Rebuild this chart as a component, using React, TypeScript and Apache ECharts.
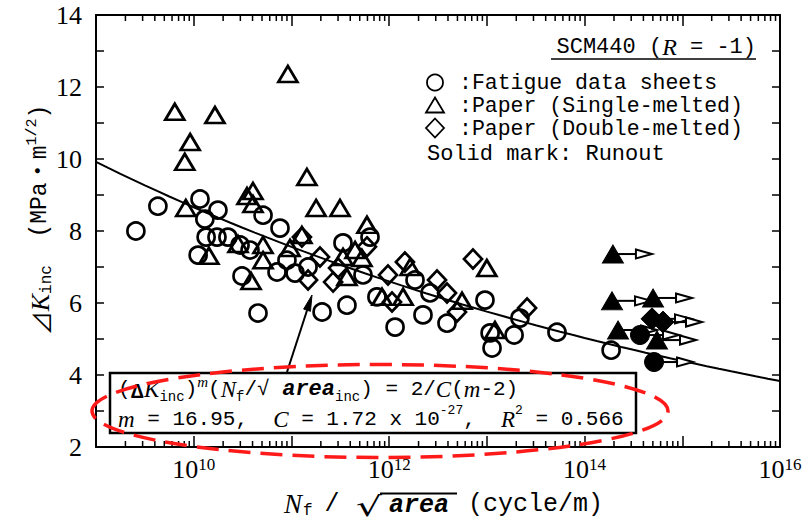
import React, { useEffect, useRef } from "react";
import * as echarts from "echarts";

// Fatigue data sheets (open circles): [Nf/√area (cycle/m), ΔKinc (MPa·m^1/2)]
const fatigueSheets: [number, number][] = [
  [2.56e9, 8.0], [4.3e9, 8.69], [1.16e10, 8.89], [1.77e10, 8.58], [1.3e10, 8.33],
  [1.34e10, 7.83], [1.73e10, 7.83], [2.24e10, 7.83], [1.11e10, 7.33], [3.12e10, 6.75],
  [4.55e10, 5.72], [2.98e10, 7.61], [3.77e10, 7.47], [5.12e10, 8.44], [7.64e10, 8.08],
  [7.12e10, 6.86], [9.0e10, 7.19], [1.09e11, 6.83], [1.48e11, 7.0], [3.37e11, 7.67],
  [6.37e11, 7.83], [5.4e11, 6.78], [2.06e11, 5.75], [3.7e11, 5.94], [7.5e11, 6.17],
  [1.15e12, 5.33], [1.84e12, 6.64], [2.62e12, 6.28], [2.22e12, 5.67], [3.91e12, 5.44],
  [9.57e12, 6.08], [1.08e13, 5.17], [1.13e13, 4.75], [1.9e13, 5.11], [2.18e13, 5.58],
  [5.22e13, 5.19], [1.87e14, 4.69],
];

// Paper, single-melted (open triangles)
const singleMelted: [number, number][] = [
  [6.4e9, 11.31], [1.65e10, 11.22], [9.2e9, 10.47], [8.1e9, 9.92], [9.2e10, 12.36],
  [1.44e11, 9.5], [1.79e11, 8.64], [3.14e11, 8.64], [8.3e9, 8.64], [3.51e10, 8.97],
  [4.04e10, 9.11], [4.04e10, 8.75], [5.93e11, 8.17], [1.43e10, 7.31], [2.84e10, 7.64],
  [3.86e10, 6.61], [5.12e10, 7.61], [5.12e10, 7.19], [9.67e10, 7.53], [1.28e11, 7.89],
  [4.48e11, 7.47], [3.37e11, 7.28], [5.27e11, 7.25], [3.7e11, 6.72], [8.45e11, 6.17],
  [1.39e12, 6.17], [1.64e12, 7.0], [1.0e13, 6.97], [5.57e12, 6.06], [1.21e13, 5.25],
];

// Paper, double-melted (open diamonds)
const doubleMelted: [number, number][] = [
  [1.28e11, 7.83], [1.96e11, 7.28], [1.48e11, 6.64], [2.67e11, 6.58], [3.0e11, 6.97],
  [5.93e11, 7.56], [9.73e11, 6.78], [1.45e12, 7.14], [1.07e12, 6.03], [7.21e12, 7.22],
  [3.09e12, 6.64], [3.91e12, 6.28], [4.95e12, 5.75], [2.58e13, 5.86],
];

// Runouts (solid marks)
const runoutSingle: [number, number][] = [
  [1.95e14, 7.36], [1.91e14, 6.06], [5.02e14, 6.14], [2.2e14, 5.25], [5.51e14, 4.97],
];
const runoutSheets: [number, number][] = [[3.69e14, 5.11], [5.14e14, 4.36]];
const runoutDouble: [number, number][] = [[4.9e14, 5.56], [6.35e14, 5.47]];

// Fitted relation: (ΔKinc)^m (Nf/√area) = 2 / C(m-2)
const fitM = 16.95;
const fitC = 1.72e-27;
const fitR2 = 0.566;

const xMin = 1e9;
const xMax = 1e16;
const yMin = 2;
const yMax = 14;

const legendLabels = ["Fatigue data sheets", "Paper (Single-melted)", "Paper (Double-melted)"];

const MONO = "'Liberation Mono', 'Noto Sans CJK JP', monospace";
const SERIF = "'Liberation Serif', 'DejaVu Serif', serif";
const CJK = "'Noto Sans CJK JP', 'DejaVu Sans', sans-serif";

function fitCurve(): [number, number][] {
  const rhs = 2 / (fitC * (fitM - 2));
  const pts: [number, number][] = [];
  const e0 = Math.log10(xMin);
  const e1 = Math.log10(xMax);
  for (let e = e0; e <= e1 + 1e-9; e += 0.125) {
    const n = Math.pow(10, e);
    pts.push([n, Math.pow(rhs / n, 1 / fitM)]);
  }
  return pts;
}

function minorTicks(): number[] {
  const out: number[] = [];
  for (let d = 9; d < 16; d++) {
    for (let k = 2; k <= 9; k++) out.push(k * Math.pow(10, d));
  }
  return out;
}

const openStyle = { color: "transparent", borderColor: "#000", borderWidth: 2.7, opacity: 1 };
const solidStyle = { color: "#000", borderColor: "#000", borderWidth: 1, opacity: 1 };

export default function App() {
  const ref = useRef<HTMLDivElement>(null);

  useEffect(() => {
    if (!ref.current) return;
    const chart = echarts.init(ref.current, undefined, { renderer: "svg" });

    const axisLineStyle = { color: "#000", width: 2 };

    const xAxisBase = {
      type: "log" as const,
      logBase: 10,
      min: xMin,
      max: xMax,
      splitLine: { show: false },
      axisLine: { lineStyle: axisLineStyle },
      axisTick: { inside: true, length: 11, lineStyle: { color: "#000", width: 1.5 } },
    };
    const yAxisBase = {
      type: "value" as const,
      min: yMin,
      max: yMax,
      interval: 1,
      splitLine: { show: false },
      axisLine: { lineStyle: axisLineStyle },
      axisTick: { inside: true, length: 8, lineStyle: { color: "#000", width: 1.5 } },
    };

    const eqRich = {
      n: { fontFamily: MONO, fontSize: 21, lineHeight: 30, fill: "#000" },
      it: { fontFamily: SERIF, fontStyle: "italic", fontSize: 23, lineHeight: 30, fill: "#000" },
      d: { fontFamily: CJK, fontSize: 19, fontWeight: "bold", lineHeight: 30, fill: "#000" },
      ar: { fontFamily: MONO, fontStyle: "italic", fontWeight: "bold", fontSize: 22, lineHeight: 30, fill: "#000" },
      sub: { fontFamily: MONO, fontSize: 14, verticalAlign: "bottom", fill: "#000" },
      sup: { fontFamily: MONO, fontSize: 13, verticalAlign: "top", fill: "#000" },
      supi: { fontFamily: SERIF, fontStyle: "italic", fontSize: 15, verticalAlign: "top", fill: "#000" },
    };

    // Arrow from the formula box towards the fitted curve
    const tip = [312, 295];
    const tail = [287, 372];
    const dx = tip[0] - tail[0];
    const dy = tip[1] - tail[1];
    const len = Math.hypot(dx, dy);
    const ux = dx / len;
    const uy = dy / len;
    const headLen = 16;
    const headHalf = 3.6;
    const bx = tip[0] - ux * headLen;
    const by = tip[1] - uy * headLen;

    chart.setOption({
      animation: false,
      grid: { left: 96, top: 15, right: 28, bottom: 75, containLabel: false },
      xAxis: [
        {
          ...xAxisBase,
          position: "bottom",
          axisLabel: {
            margin: 9,
            showMinLabel: true,
            showMaxLabel: true,
            formatter: (v: number) => {
              const e = Math.round(Math.log10(v));
              return e % 2 === 0 ? `{b|10}{s|${e}}` : "";
            },
            rich: {
              b: { fontFamily: SERIF, fontSize: 26, color: "#000", lineHeight: 26 },
              s: { fontFamily: SERIF, fontSize: 17, color: "#000", verticalAlign: "top" },
            },
          },
        },
        { ...xAxisBase, position: "top", axisLabel: { show: false } },
      ],
      yAxis: [
        {
          ...yAxisBase,
          position: "left",
          axisLabel: {
            margin: 14,
            fontFamily: SERIF,
            fontSize: 26,
            color: "#000",
            formatter: (v: number) => (v % 2 === 0 ? String(v) : ""),
          },
        },
        { ...yAxisBase, position: "right", axisLabel: { show: false } },
      ],
      series: [
        {
          type: "custom",
          silent: true,
          clip: false,
          data: minorTicks().map((v) => [v, yMin]),
          renderItem: (_p: any, api: any) => {
            const b = api.coord([api.value(0), yMin]);
            const t = api.coord([api.value(0), yMax]);
            const ls = { stroke: "#000", lineWidth: 1.5 };
            return {
              type: "group",
              children: [
                { type: "line", shape: { x1: b[0], y1: b[1], x2: b[0], y2: b[1] - 6 }, style: ls },
                { type: "line", shape: { x1: t[0], y1: t[1], x2: t[0], y2: t[1] + 6 }, style: ls },
              ],
            };
          },
        },
        {
          type: "line",
          silent: true,
          data: fitCurve(),
          symbol: "none",
          lineStyle: { color: "#000", width: 2 },
          z: 2,
        },
        {
          type: "custom",
          silent: true,
          clip: false,
          z: 3,
          data: [...runoutSingle, ...runoutSheets, ...runoutDouble],
          renderItem: (_p: any, api: any) => {
            const p = api.coord([api.value(0), api.value(1)]);
            const x0 = p[0] + 4;
            const x1 = p[0] + 39;
            const y = p[1];
            return {
              type: "group",
              children: [
                { type: "line", shape: { x1: x0, y1: y, x2: x1 - 16, y2: y }, style: { stroke: "#000", lineWidth: 2 } },
                {
                  type: "polygon",
                  shape: { points: [[x1 - 16, y - 4.5], [x1, y], [x1 - 16, y + 4.5]] },
                  style: { fill: "#fff", stroke: "#000", lineWidth: 2 },
                },
              ],
            };
          },
        },
        { type: "scatter", silent: true, z: 4, data: fatigueSheets, symbol: "circle", symbolSize: 17, itemStyle: openStyle },
        { type: "scatter", silent: true, z: 4, data: singleMelted, symbol: "triangle", symbolSize: [19, 16], itemStyle: openStyle },
        { type: "scatter", silent: true, z: 4, data: doubleMelted, symbol: "diamond", symbolSize: [18, 19], itemStyle: openStyle },
        { type: "scatter", silent: true, z: 5, data: runoutSingle, symbol: "triangle", symbolSize: [21, 18], itemStyle: solidStyle },
        { type: "scatter", silent: true, z: 5, data: runoutSheets, symbol: "circle", symbolSize: 19, itemStyle: solidStyle },
        { type: "scatter", silent: true, z: 5, data: runoutDouble, symbol: "diamond", symbolSize: [22, 22], itemStyle: solidStyle },
      ],
      graphic: [
        // y-axis title
        {
          type: "text", x: 40, y: 220, rotation: Math.PI / 2, z: 100,
          style: {
            text: "{tri|⊿}{it|K}{sub|inc}{n|  (MPa・m}{sup|1/2}{n|)}",
            align: "center", verticalAlign: "middle", fill: "#000",
            rich: {
              tri: { fontFamily: CJK, fontSize: 24, lineHeight: 30, fill: "#000" },
              it: { fontFamily: SERIF, fontStyle: "italic", fontSize: 26, lineHeight: 30, fill: "#000" },
              n: { fontFamily: MONO, fontSize: 23, lineHeight: 30, fill: "#000" },
              sub: { fontFamily: MONO, fontSize: 16, verticalAlign: "bottom", fill: "#000" },
              sup: { fontFamily: MONO, fontSize: 15, verticalAlign: "top", fill: "#000" },
            },
          },
        },
        // x-axis title
        {
          type: "text", x: 284, y: 504, z: 100,
          style: { text: "N", fontFamily: SERIF, fontStyle: "italic", fontSize: 27, fill: "#000", align: "left", verticalAlign: "middle" },
        },
        {
          type: "text", x: 303, y: 511, z: 100,
          style: { text: "f", fontFamily: MONO, fontSize: 16, fill: "#000", align: "left", verticalAlign: "middle" },
        },
        {
          type: "text", x: 332, y: 504, z: 100,
          style: { text: "/", fontFamily: MONO, fontSize: 25, fill: "#000", align: "center", verticalAlign: "middle" },
        },
        {
          type: "text", x: 356, y: 520, scaleX: 1.5, z: 100,
          style: { text: "√", fontFamily: "'DejaVu Sans', sans-serif", fontSize: 27, fill: "#000", align: "left", verticalAlign: "bottom" },
        },
        {
          type: "line", z: 100,
          shape: { x1: 380, y1: 493.5, x2: 457, y2: 493.5 },
          style: { stroke: "#000", lineWidth: 2 },
        },
        {
          type: "text", x: 389, y: 505, z: 100,
          style: { text: "area", fontFamily: MONO, fontStyle: "italic", fontWeight: "bold", fontSize: 25, fill: "#000", align: "left", verticalAlign: "middle" },
        },
        {
          type: "text", x: 468, y: 504, z: 100,
          style: { text: "(cycle/m)", fontFamily: MONO, fontSize: 25, fill: "#000", align: "left", verticalAlign: "middle" },
        },
        // material and loading condition
        {
          type: "text", x: 756, y: 47, z: 100,
          style: {
            text: "{n|SCM440 (}{it|R}{n| = -1)}",
            align: "right", verticalAlign: "middle", fill: "#000",
            rich: {
              n: { fontFamily: MONO, fontSize: 22, lineHeight: 26, fill: "#000" },
              it: { fontFamily: SERIF, fontStyle: "italic", fontSize: 24, lineHeight: 26, fill: "#000" },
            },
          },
        },
        {
          type: "line", z: 100,
          shape: { x1: 551, y1: 59, x2: 756, y2: 59 },
          style: { stroke: "#000", lineWidth: 1.5 },
        },
        // legend
        {
          type: "circle", z: 100,
          shape: { cx: 435, cy: 82.5, r: 8 },
          style: { fill: "none", stroke: "#000", lineWidth: 1.8 },
        },
        {
          type: "polygon", z: 100,
          shape: { points: [[435, 97.5], [444, 112.5], [426, 112.5]] },
          style: { fill: "none", stroke: "#000", lineWidth: 1.8 },
        },
        {
          type: "polygon", z: 100,
          shape: { points: [[435, 118.5], [444, 128], [435, 137.5], [426, 128]] },
          style: { fill: "none", stroke: "#000", lineWidth: 1.8 },
        },
        {
          type: "text", x: 459, y: 105.5, z: 100,
          style: {
            text: legendLabels.map((s) => ":" + s).join("\n"),
            fontFamily: MONO, fontSize: 21.5, lineHeight: 23, fill: "#000",
            align: "left", verticalAlign: "middle",
          },
        },
        {
          type: "text", x: 427, y: 154, z: 100,
          style: { text: "Solid mark: Runout", fontFamily: MONO, fontSize: 22, fill: "#000", align: "left", verticalAlign: "middle" },
        },
        // formula box
        {
          type: "rect", z: 100,
          shape: { x: 110, y: 373, width: 526, height: 60 },
          style: { fill: "#fff", stroke: "#000", lineWidth: 2.5 },
        },
        {
          type: "text", x: 118, y: 389, z: 101,
          style: {
            text: "{n|(}{d|Δ}{it|K}{sub|inc}{n|)}{supi|m}{n|(}{it|N}{sub|f}{n|/√ }{ar|area}{sub|inc}{n|) = 2/}{it|C}{n|(}{it|m}{n|-2)}",
            align: "left", verticalAlign: "middle", fill: "#000", rich: eqRich,
          },
        },
        {
          type: "text", x: 118, y: 419, z: 101,
          style: {
            text: `{it|m}{n| = ${fitM.toFixed(2)},  }{it|C}{n| = 1.72 x 10}{sup|-27}{n|,  }{it|R}{sup|2}{n| = ${fitR2.toFixed(3)}}`,
            align: "left", verticalAlign: "middle", fill: "#000", rich: eqRich,
          },
        },
        // pointer arrow
        {
          type: "line", z: 100,
          shape: { x1: tail[0], y1: tail[1], x2: bx, y2: by },
          style: { stroke: "#000", lineWidth: 2 },
        },
        {
          type: "polygon", z: 100,
          shape: {
            points: [
              [tip[0], tip[1]],
              [bx - uy * headHalf, by + ux * headHalf],
              [bx + uy * headHalf, by - ux * headHalf],
            ],
          },
          style: { fill: "#000", stroke: "#000", lineWidth: 1 },
        },
        // red dashed highlight
        {
          type: "ellipse", z: 110,
          shape: { cx: 380, cy: 411, rx: 288, ry: 46.5 },
          style: { fill: "none", stroke: "#ff1a1a", lineWidth: 3.5, lineDash: [22, 10] },
        },
      ],
    });

    return () => chart.dispose();
  }, []);

  return (
    <div
      ref={ref}
      style={{ position: "absolute", left: 0, top: 0, width: 808, height: 522, background: "#fff" }}
    />
  );
}
